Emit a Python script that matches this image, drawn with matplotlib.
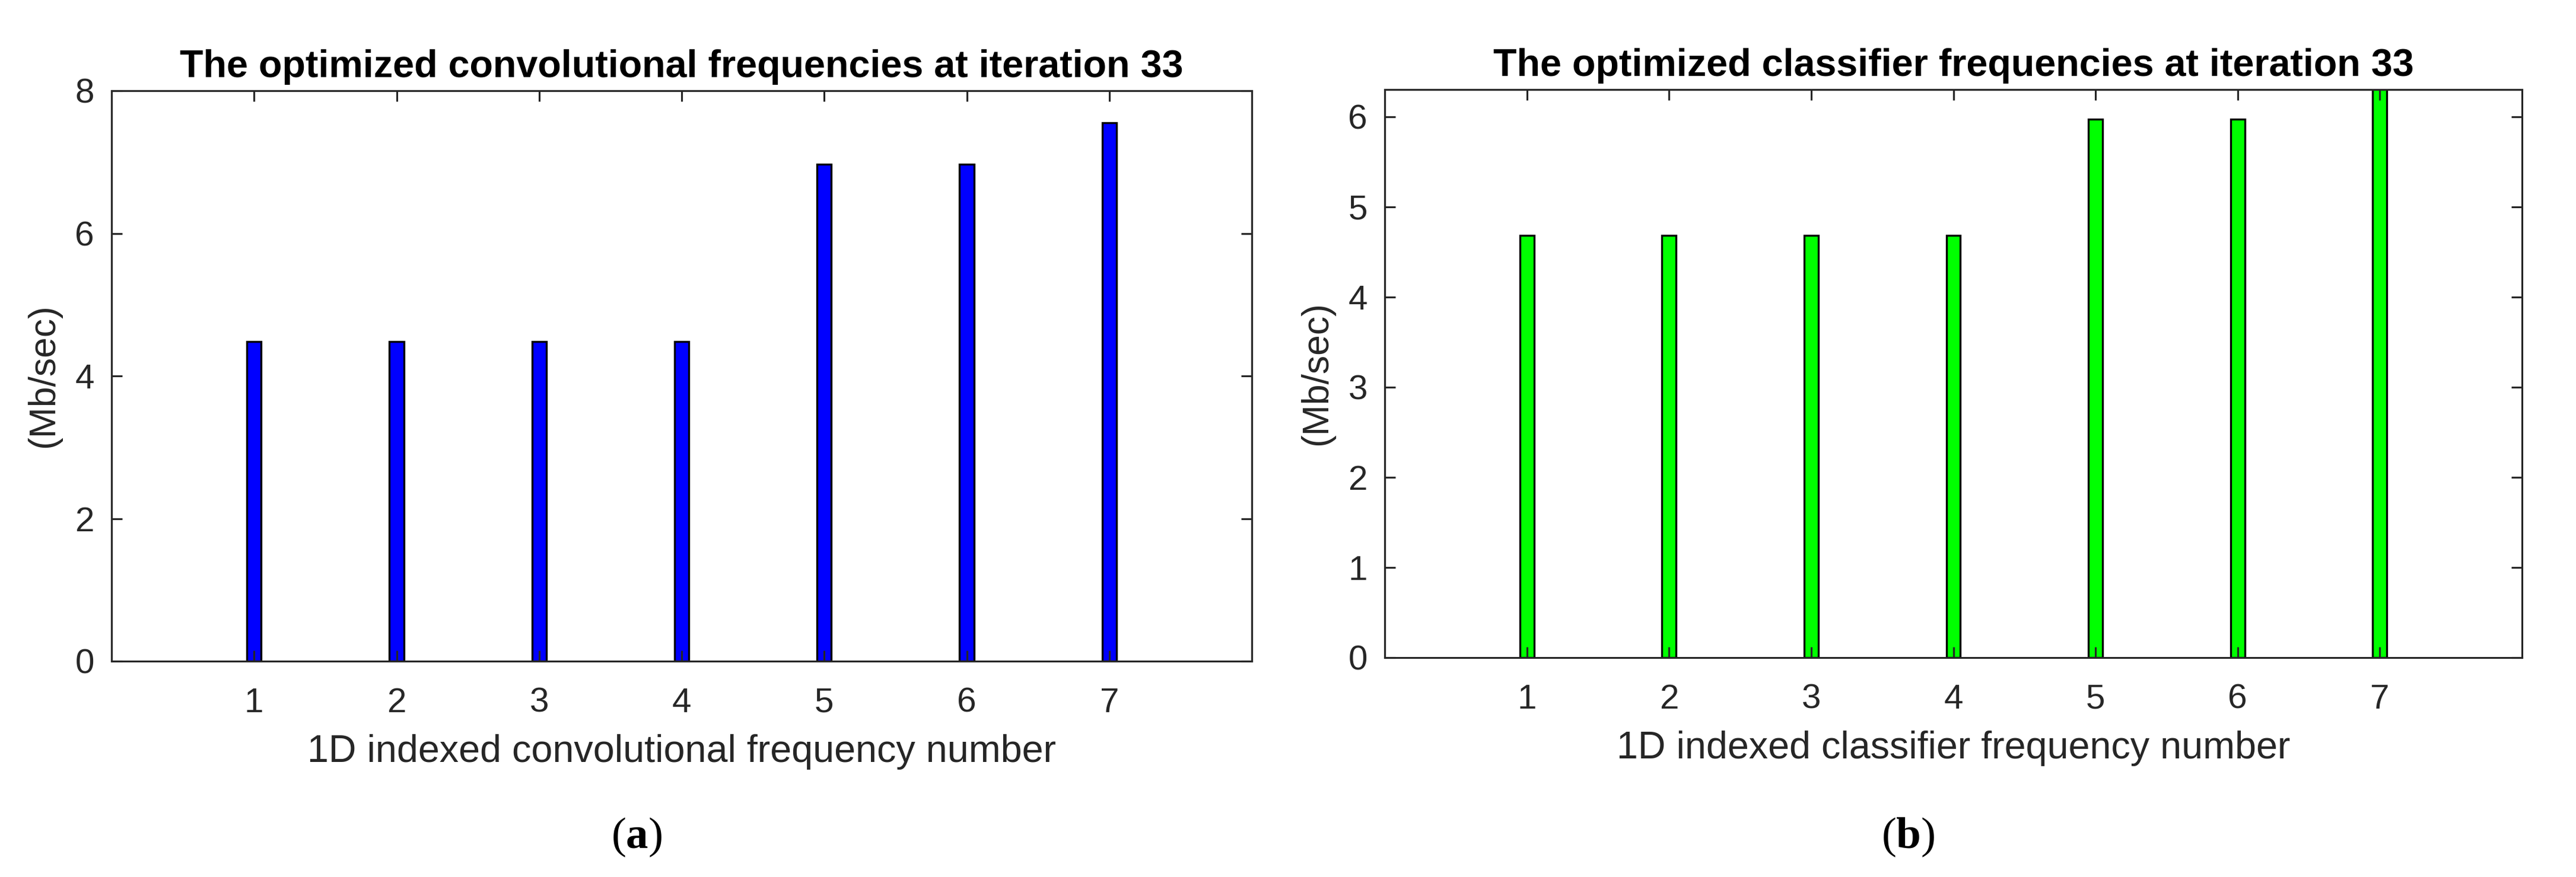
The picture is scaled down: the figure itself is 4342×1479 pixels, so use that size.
import matplotlib
matplotlib.use('Agg')
from matplotlib import pyplot as plt

# dados
indices = [1, 2, 3, 4, 5, 6, 7]
freq_conv = [4.48, 4.48, 4.48, 4.48, 6.97, 6.97, 7.55]
freq_class = [4.68, 4.68, 4.68, 4.68, 5.97, 5.97, 6.6]

titulos = ['The optimized convolutional frequencies at iteration 33',
           'The optimized classifier frequencies at iteration 33']
xlabels = ['1D indexed convolutional frequency number',
           '1D indexed classifier frequency number']
letras = ['a', 'b']

plt.rcParams['font.family'] = ['Liberation Sans', 'DejaVu Sans']
plt.rcParams['mathtext.fontset'] = 'custom'
plt.rcParams['mathtext.rm'] = 'Liberation Serif'
plt.rcParams['mathtext.bf'] = 'Liberation Serif:bold'

cinza = '#262626'

dpi = 300
W, H = 4342, 1479
fig = plt.figure(figsize=(W / dpi, H / dpi), dpi=dpi)

# posicoes dos eixos em pixels (esq, topo, dir, baixo)
caixas = [(188, 153, 2110, 1115), (2334, 151, 4251, 1109)]
dados = [freq_conv, freq_class]
cores = ['#0000ff', '#00ff00']
ylims = [(0, 8), (0, 6.3)]
yticks = [[0, 2, 4, 6, 8], [0, 1, 2, 3, 4, 5, 6]]
letra_x = [1073, 3216]

for i in range(2):
    l, t, r, b = caixas[i]
    ax = fig.add_axes([l / W, 1 - b / H, (r - l) / W, (b - t) / H])
    ax.bar(indices, dados[i], width=0.1, color=cores[i], edgecolor='black',
           linewidth=0.8)
    ax.set_xlim(0, 8)
    ax.set_ylim(*ylims[i])
    ax.set_xticks(indices)
    ax.set_yticks(yticks[i])
    ax.tick_params(direction='in', length=4.4, width=0.75, colors=cinza,
                   top=True, right=True, labelsize=14)
    ax.tick_params(axis='x', pad=10.5)
    ax.tick_params(axis='y', pad=7)
    for s in ax.spines.values():
        s.set_color(cinza)
        s.set_linewidth(0.75)
    ax.set_title(titulos[i], fontweight='bold', fontsize=15.5,
                 pad=5.5, color='black')
    ax.set_xlabel(xlabels[i], fontsize=15.5, color=cinza, labelpad=6)
    ax.set_ylabel('(Mb/sec)', fontsize=15, color=cinza, labelpad=5.5)
    fig.text(letra_x[i] / W, 1 - 1412 / H, r'$(\mathbf{%s})$' % letras[i],
             fontsize=18, ha='center', va='center')

plt.savefig('out.png', dpi=dpi)
plt.close(fig)
